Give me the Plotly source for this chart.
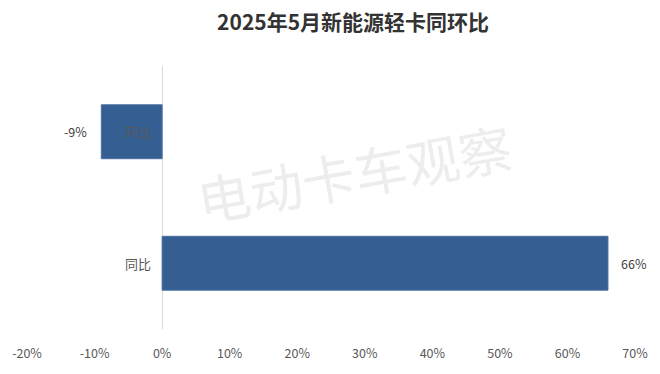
import plotly.graph_objects as go

categories = ["环比", "同比"]
values = [-9, 66]
value_labels = ["-9%", "66%"]
tick_vals = [-20, -10, 0, 10, 20, 30, 40, 50, 60, 70]
tick_text = ["-20%", "-10%", "0%", "10%", "20%", "30%", "40%", "50%", "60%", "70%"]
title_text = "2025年5月新能源轻卡同环比"
watermark = "电动卡车观察"

FONT = "Noto Sans CJK SC"
BAR = "#355E92"

fig = go.Figure()
fig.add_trace(go.Bar(
    y=categories, x=values, orientation="h",
    marker=dict(color=BAR, line=dict(color="#4A71A3", width=1)),
    width=0.41, hoverinfo="skip",
))

annotations = []
# category labels next to zero line
for c in categories:
    annotations.append(dict(x=0, y=c, xref="x", yref="y", text=c, showarrow=False,
                            xanchor="right", xshift=-9,
                            font=dict(family=FONT, size=13, color="#595959")))
# value labels
for c, v, t in zip(categories, values, value_labels):
    annotations.append(dict(x=v, y=c, xref="x", yref="y", text=t, showarrow=False,
                            xanchor="left" if v >= 0 else "right",
                            xshift=11 if v >= 0 else -12,
                            font=dict(family=FONT, size=12.5, color="#404040")))
# watermark
annotations.append(dict(x=(353 - 23) / 614, y=(374 - 42 - 173) / 266, xref="paper", yref="paper",
                        text=watermark, showarrow=False, textangle=-10,
                        font=dict(family=FONT, size=53, color="rgba(200,200,200,0.33)")))

fig.update_layout(
    width=660, height=374,
    margin=dict(l=23, r=23, t=66, b=42),
    paper_bgcolor="white", plot_bgcolor="white",
    showlegend=False,
    title=dict(text="<b>" + title_text + "</b>", x=0.535, xanchor="center",
               y=1 - 23 / 374, yanchor="middle",
               font=dict(family=FONT, size=21, color="#333333")),
    xaxis=dict(range=[-20, 70], tickvals=tick_vals, ticktext=tick_text,
               showgrid=False, zeroline=True, zerolinecolor="#D9D9D9", zerolinewidth=1,
               ticks="outside", ticklen=13, tickcolor="rgba(0,0,0,0)",
               tickfont=dict(family=FONT, size=12.5, color="#595959"),
               showline=False, fixedrange=True),
    yaxis=dict(autorange="reversed", range=[-0.5, 1.5], showticklabels=False,
               showgrid=False, zeroline=False, showline=False, fixedrange=True),
    annotations=annotations,
)

fig.write_html("out.html")
